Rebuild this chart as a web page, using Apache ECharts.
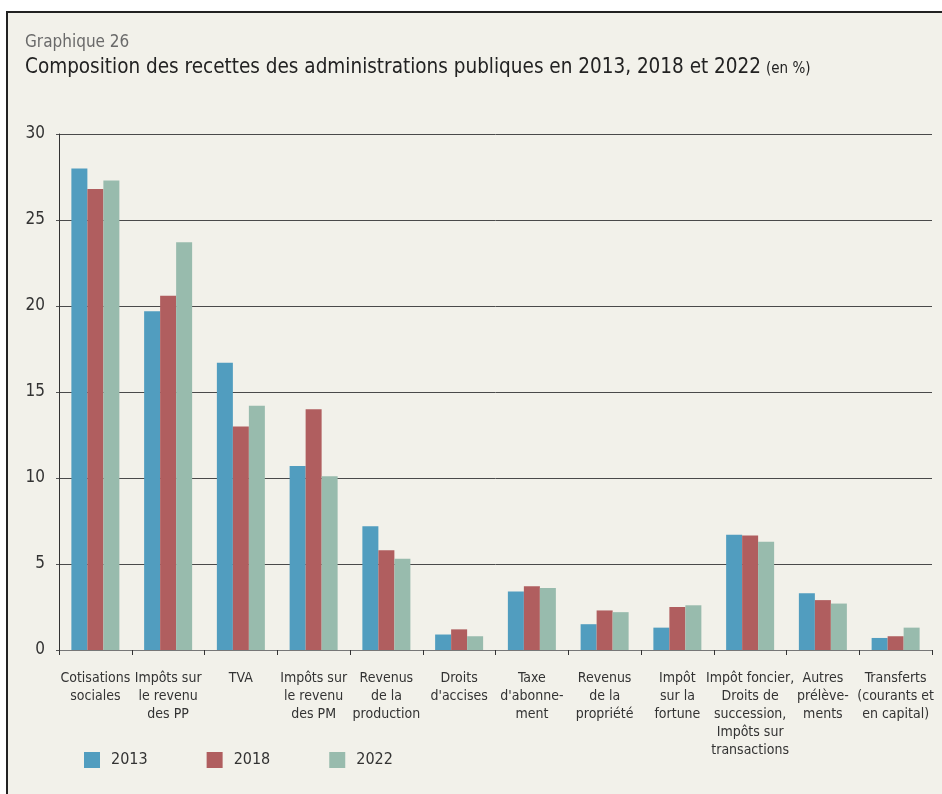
<!DOCTYPE html>
<html>
<head>
<meta charset="utf-8">
<script src="https://cdn.jsdelivr.net/npm/echarts@6/dist/echarts.min.js"></script>
<style>
html,body{margin:0;padding:0;background:#fff;width:942px;height:794px;overflow:hidden;}
#frame{position:absolute;left:6px;top:11px;width:936px;height:783px;background:#f2f1ea;border-left:2px solid #222;border-top:2px solid #222;box-sizing:border-box;}
#chart{position:absolute;left:0;top:0;width:942px;height:794px;}
</style>
</head>
<body>
<div id="frame"></div>
<div id="chart"></div>
<script>
const categories = [
  "Cotisations\nsociales",
  "Impôts sur\nle revenu\ndes PP",
  "TVA",
  "Impôts sur\nle revenu\ndes PM",
  "Revenus\nde la\nproduction",
  "Droits\nd'accises",
  "Taxe\nd'abonne-\nment",
  "Revenus\nde la\npropriété",
  "Impôt\nsur la\nfortune",
  "Impôt foncier,\nDroits de\nsuccession,\nImpôts sur\ntransactions",
  "Autres\nprélève-\nments",
  "Transferts\n(courants et\nen capital)"
];
const seriesNames = ["2013", "2018", "2022"];
const values2013 = [28.0, 19.7, 16.7, 10.7, 7.2, 0.9, 3.4, 1.5, 1.3, 6.7, 3.3, 0.7];
const values2018 = [26.8, 20.6, 13.0, 14.0, 5.8, 1.2, 3.7, 2.3, 2.5, 6.65, 2.9, 0.8];
const values2022 = [27.3, 23.7, 14.2, 10.1, 5.3, 0.8, 3.6, 2.2, 2.6, 6.3, 2.7, 1.3];
const yTicks = [0, 5, 10, 15, 20, 25, 30];

const colors = ["#519dbf", "#b05e5f", "#98bbad"];
const font = "'Liberation Sans Narrow','DejaVu Sans Condensed','Roboto',sans-serif";

const chart = echarts.init(document.getElementById('chart'), null, {renderer: 'canvas'});
const allValues = [values2013, values2018, values2022];
chart.setOption({
  backgroundColor: 'transparent',
  animation: false,
  color: colors,
  title: [
    {text: 'Graphique 26', left: 20, top: 29, textStyle: {fontFamily: font, fontSize: 17, fontWeight: 'normal', color: '#6a6a6a'}},
    {text: '{a|Composition des recettes des administrations publiques en 2013, 2018 et 2022} {b|(en %)}', left: 20, top: 52,
     textStyle: {fontWeight: 'normal', rich: {
       a: {fontFamily: font, fontSize: 20.5, fontWeight: 'normal', color: '#222'},
       b: {fontFamily: font, fontSize: 15, fontWeight: 'normal', color: '#222', padding: [4, 0, 0, 0]}
     }}}
  ],
  legend: {
    data: seriesNames,
    left: 79, top: 747,
    itemWidth: 16, itemHeight: 16, itemGap: 59,
    icon: 'rect',
    textStyle: {fontFamily: font, fontSize: 16, color: '#333', padding: [0, 0, 0, 6]}
  },
  grid: {left: 59, right: 10, top: 134, bottom: 144, containLabel: false},
  xAxis: {
    type: 'category',
    data: categories,
    axisLine: {lineStyle: {color: '#777', width: 1}},
    axisTick: {show: true, length: 5, interval: 0, alignWithLabel: false, lineStyle: {color: '#333'}},
    axisLabel: {interval: 0, fontFamily: font, fontSize: 14, color: '#333', lineHeight: 18, margin: 19}
  },
  yAxis: {
    type: 'value',
    min: yTicks[0], max: yTicks[yTicks.length - 1], interval: 5,
    axisLine: {show: true, lineStyle: {color: '#333'}},
    axisTick: {show: true, length: 3, lineStyle: {color: '#555'}},
    axisLabel: {fontFamily: font, fontSize: 17, color: '#333', margin: 14},
    splitLine: {lineStyle: {color: '#4a4a4a', width: 1}}
  },
  series: seriesNames.map((n, i) => ({
    name: n,
    type: 'bar',
    data: allValues[i],
    barWidth: 16,
    barGap: '0%',
    itemStyle: {color: colors[i]}
  }))
});
</script>
</body>
</html>
